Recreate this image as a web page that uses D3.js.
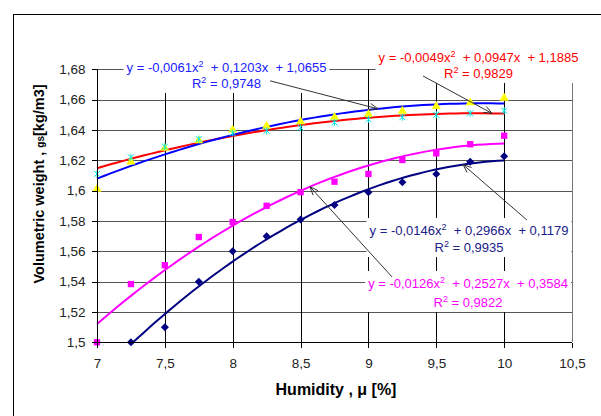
<!DOCTYPE html>
<html><head><meta charset="utf-8">
<script src="https://cdn.jsdelivr.net/npm/d3@7/dist/d3.min.js"></script>
<style>
body{margin:0;background:#fff}
svg{display:block}
text{font-family:"Liberation Sans",Arial,sans-serif}
</style>
</head><body><svg id="c" width="601" height="416"></svg>
<script>
// ---------- data ----------
const humidity = [7, 7.25, 7.5, 7.75, 8, 8.25, 8.5, 8.75, 9, 9.25, 9.5, 9.75, 10];
const navyX = [7.25, 7.5, 7.75, 8, 8.25, 8.5, 8.75, 9, 9.25, 9.5, 9.75, 10];
const navyY = [1.500, 1.510, 1.540, 1.560, 1.570, 1.581, 1.5905, 1.599, 1.6055, 1.611, 1.619, 1.6227];
const magentaY = [1.500, 1.5384, 1.5508, 1.5694, 1.5793, 1.590, 1.599, 1.6059, 1.611, 1.6202, 1.6246, 1.6306, 1.6362];
const yellowY = [1.601, 1.619, 1.628, 1.633, 1.640, 1.6426, 1.6455, 1.6484, 1.6503, 1.6525, 1.6556, 1.658, 1.661];
const cyanY = [1.611, 1.622, 1.629, 1.634, 1.638, 1.6395, 1.6415, 1.645, 1.647, 1.6484, 1.650, 1.651, 1.6527];
const xTicks = [7, 7.5, 8, 8.5, 9, 9.5, 10, 10.5];
const yTicks = [1.5, 1.52, 1.54, 1.56, 1.58, 1.6, 1.62, 1.64, 1.66, 1.68];
const eqBlue = ["-0,0061", "0,1203", "1,0655", "0,9748"];
const eqRed = ["-0,0049", "0,0947", "1,1885", "0,9829"];
const eqNavy = ["-0,0146", "0,2966", "0,1179", "0,9935"];
const eqMagenta = ["-0,0126", "0,2527", "0,3584", "0,9822"];
const xTitle = "Humidity , \u03bc [%]";

// ---------- helpers ----------
function quadFit(xs, ys) {
  let S = [[0,0,0],[0,0,0],[0,0,0]], T = [0,0,0];
  xs.forEach((x, i) => {
    const p = [x*x, x, 1];
    for (let r = 0; r < 3; r++) { T[r] += p[r]*ys[i]; for (let c = 0; c < 3; c++) S[r][c] += p[r]*p[c]; }
  });
  const M = S.map((row, i) => [...row, T[i]]);
  for (let i = 0; i < 3; i++) {
    let piv = i; for (let k = i+1; k < 3; k++) if (Math.abs(M[k][i]) > Math.abs(M[piv][i])) piv = k;
    [M[i], M[piv]] = [M[piv], M[i]];
    for (let k = i+1; k < 3; k++) { const f = M[k][i]/M[i][i]; for (let j = i; j < 4; j++) M[k][j] -= f*M[i][j]; }
  }
  const s = [0,0,0];
  for (let i = 2; i >= 0; i--) { let v = M[i][3]; for (let j = i+1; j < 3; j++) v -= M[i][j]*s[j]; s[i] = v/M[i][i]; }
  return x => s[0]*x*x + s[1]*x + s[2];
}

// ---------- layout ----------
const svg = d3.select("#c");
const x = d3.scaleLinear().domain([7, 10.5]).range([97, 572]);
const y = d3.scaleLinear().domain([1.5, 1.68]).range([342.3, 69.3]);

const bgL = svg.append("g"), gridL = svg.append("g"), boxL = svg.append("g"),
      plotL = svg.append("g"), axisL = svg.append("g"), leadL = svg.append("g"), textL = svg.append("g");

// outer chart border
bgL.append("rect").attr("x", 13.5).attr("y", 14.5).attr("width", 620).attr("height", 420)
  .attr("fill", "#fff").attr("stroke", "#000").attr("stroke-width", 1);

// gridlines
gridL.attr("shape-rendering", "crispEdges");
gridL.selectAll("line.h").data(yTicks.slice(1)).join("line")
  .attr("x1", x(7)).attr("x2", x(10.5)).attr("y1", d => Math.round(y(d))+0.5).attr("y2", d => Math.round(y(d))+0.5)
  .attr("stroke", "#555");
gridL.selectAll("line.v").data(xTicks.slice(1, -1)).join("line")
  .attr("y1", y(1.68)).attr("y2", y(1.5)).attr("x1", d => Math.round(x(d))+0.5).attr("x2", d => Math.round(x(d))+0.5)
  .attr("stroke", "#000");
gridL.append("line").attr("x1", Math.round(x(10.5))+0.5).attr("x2", Math.round(x(10.5))+0.5)
  .attr("y1", y(1.68)).attr("y2", y(1.5)).attr("stroke", "#777");

// axes
const fmt = d => String(d).replace(".", ",");
const yAxis = axisL.append("g").attr("transform", `translate(${Math.round(x(7))+0.5},0)`)
  .call(d3.axisLeft(y).tickValues(yTicks).tickFormat(fmt).tickSize(6).tickPadding(6));
const xAxis = axisL.append("g").attr("transform", `translate(0,${Math.round(y(1.5))+0.5})`)
  .call(d3.axisBottom(x).tickValues(xTicks).tickFormat(fmt).tickSize(5).tickPadding(11));
[yAxis, xAxis].forEach(a => {
  a.select(".domain").attr("stroke", "#000").attr("shape-rendering", "crispEdges");
  a.selectAll(".tick line").attr("stroke", "#000").attr("shape-rendering", "crispEdges");
  a.selectAll(".tick text").attr("fill", "#222").style("font-size", "13.5px")
    .style("font-family", "'Liberation Sans',Arial,sans-serif");
});
yAxis.select(".domain").attr("d", `M0,${y(1.5)}V${y(1.68)}`);
xAxis.select(".domain").attr("d", `M${x(7)},0H${x(10.5)}`);

// axis titles
textL.append("text").attr("x", 336).attr("y", 395).attr("text-anchor", "middle")
  .style("font-size", "16px").style("font-weight", "bold").text(xTitle);
const yt = textL.append("text").attr("transform", "translate(44,184) rotate(-90)")
  .attr("text-anchor", "middle").style("font-size", "14.5px").style("font-weight", "bold");
yt.append("tspan").text("Volumetric weight , ");
yt.append("tspan").style("font-size", "10px").text("gs");
yt.append("tspan").text("[kg/m3]");

// fits
const fitNavy = quadFit(navyX, navyY);
const fitMag = quadFit(humidity, magentaY);
const fitYel = quadFit(humidity, yellowY);
const fitCyan = quadFit(humidity, cyanY);

// annotations (label centre / baselines / leader, in data units)
const annos = [
  {eq: eqBlue, color: "#2020ff", cx: 7.954, b1: 1.6782, b2: 1.6677, from: [8.275, 1.6724], tipX: 9.07, fit: fitYel},
  {eq: eqRed, color: "#ff0000", cx: 9.811, b1: 1.6848, b2: 1.6743, from: [9.402, 1.6756], tipX: 9.911, fit: fitCyan},
  {eq: eqNavy, color: "#202088", cx: 9.741, b1: 1.5708, b2: 1.5595, from: [10.168, 1.5806], tipX: 9.697, fit: fitNavy},
  {eq: eqMagenta, color: "#ff00ff", cx: 9.734, b1: 1.5358, b2: 1.5233, from: [9.174, 1.5431], tipX: 8.569, fit: fitMag}
];

annos.forEach(a => {
  const g = textL.append("g");
  const t1 = g.append("text").attr("x", x(a.cx)).attr("y", y(a.b1)).attr("text-anchor", "middle")
    .attr("fill", a.color).style("font-size", "13px").style("white-space", "pre");
  t1.append("tspan").text(`y = ${a.eq[0]}x`);
  t1.append("tspan").attr("dy", -5).style("font-size", "9px").text("2");
  t1.append("tspan").attr("dy", 5).text(`  + ${a.eq[1]}x  + ${a.eq[2]}`);
  const t2 = g.append("text").attr("x", x(a.cx)).attr("y", y(a.b2)).attr("text-anchor", "middle")
    .attr("fill", a.color).style("font-size", "13px").style("white-space", "pre");
  t2.append("tspan").text("R");
  t2.append("tspan").attr("dy", -5).style("font-size", "9px").text("2");
  t2.append("tspan").attr("dy", 5).text(` = ${a.eq[3]}`);
  const bb = g.node().getBBox();
  boxL.append("rect").attr("x", bb.x - 3).attr("y", bb.y - 4).attr("width", bb.width + 6).attr("height", bb.height + 6)
    .attr("fill", "#fff");
});

// trend lines
const line = d3.line().x(d => x(d[0])).y(d => y(d[1]));
const trends = [
  {xs: navyX, fit: fitNavy, color: "#000080"},
  {xs: humidity, fit: fitMag, color: "#ff00ff"},
  {xs: humidity, fit: fitCyan, color: "#ff0000"},
  {xs: humidity, fit: fitYel, color: "#0000ff"}
];
trends.forEach(t => {
  const lo = d3.min(t.xs), hi = d3.max(t.xs);
  const pts = d3.range(0, 61).map(i => { const u = lo + (hi - lo) * i / 60; return [u, t.fit(u)]; });
  plotL.append("path").attr("d", line(pts)).attr("fill", "none").attr("stroke", t.color).attr("stroke-width", 2);
});

// markers
const sym = (type, size) => d3.symbol().type(type).size(size)();
plotL.selectAll("path.nv").data(navyX.map((u, i) => [u, navyY[i]])).join("path")
  .attr("transform", d => `translate(${x(d[0])},${y(d[1])})`).attr("d", "M0,-4L4,0L0,4L-4,0Z").attr("fill", "#000080");
plotL.selectAll("path.mg").data(humidity.map((u, i) => [u, magentaY[i]])).join("path")
  .attr("transform", d => `translate(${x(d[0])},${y(d[1])})`).attr("d", sym(d3.symbolSquare, 40)).attr("fill", "#ff00ff");
plotL.selectAll("path.yl").data(humidity.map((u, i) => [u, yellowY[i]])).join("path")
  .attr("transform", d => `translate(${x(d[0])},${y(d[1])})`).attr("d", sym(d3.symbolTriangle, 36)).attr("fill", "#ffff00");
plotL.selectAll("path.cy").data(humidity.map((u, i) => [u, cyanY[i]])).join("path")
  .attr("transform", d => `translate(${x(d[0])},${y(d[1])})`)
  .attr("d", "M-3,-3L3,3M-3,3L3,-3M0,-3.5V3.5").attr("stroke", "#00e8e8").attr("stroke-width", 1).attr("fill", "none");

// leaders
leadL.attr("stroke", "#333").attr("stroke-width", 1).attr("fill", "none");
annos.forEach(a => {
  const x0 = x(a.from[0]), y0 = y(a.from[1]), x1 = x(a.tipX), y1 = y(a.fit(a.tipX));
  leadL.append("line").attr("x1", x0).attr("y1", y0).attr("x2", x1).attr("y2", y1);
  const ang = Math.atan2(y1 - y0, x1 - x0), L = 9, w = 0.38;
  leadL.append("path").attr("d",
    `M${x1 - L*Math.cos(ang - w)},${y1 - L*Math.sin(ang - w)}L${x1},${y1}L${x1 - L*Math.cos(ang + w)},${y1 - L*Math.sin(ang + w)}`);
});
</script></body></html>
